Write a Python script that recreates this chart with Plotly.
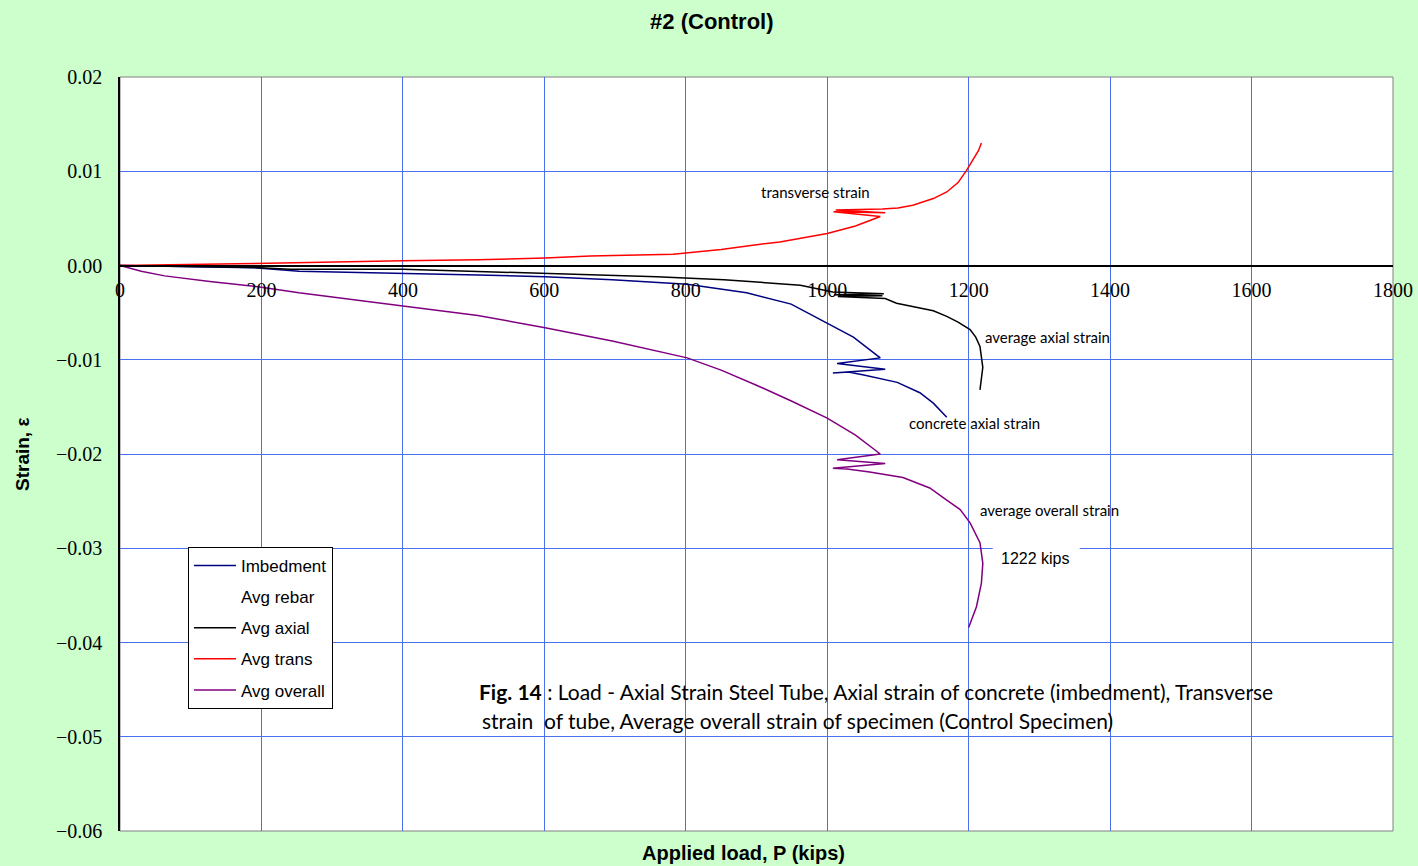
import plotly.graph_objects as go

# ---------------- data ----------------
imb_load = [0, 60, 190, 253, 400, 506, 601, 696, 802, 886, 949, 1000, 1037, 1075,
            1014, 1082, 1008, 1030, 1050, 1099, 1131, 1150, 1169]
imb_strain = [0, -0.0001, -0.00025, -0.0006, -0.0008, -0.001, -0.0012, -0.0015, -0.002,
              -0.0029, -0.0041, -0.0061, -0.0076, -0.0098, -0.0104, -0.0110, -0.0114,
              -0.0113, -0.0116, -0.0124, -0.0135, -0.0146, -0.0161]

axial_load = [0, 100, 190, 240, 400, 494, 633, 759, 854, 962, 1008, 1080, 1010, 1078,
              1015, 1082, 1098, 1125, 1150, 1169, 1185, 1202, 1210, 1216, 1220, 1216]
axial_strain = [0, -0.0001, -0.0002, -0.0004, -0.0004, -0.0006, -0.0009, -0.0012, -0.0015,
                -0.0021, -0.0028, -0.0030, -0.0031, -0.0032, -0.0033, -0.0035, -0.0040,
                -0.0044, -0.0048, -0.0054, -0.0060, -0.0068, -0.0076, -0.0086, -0.0108,
                -0.0132]

trans_load = [0, 100, 190, 400, 506, 601, 665, 782, 850, 900, 933, 1000, 1040, 1075,
              1009, 1082, 1012, 1078, 1100, 1121, 1150, 1169, 1185, 1197, 1207, 1214, 1218]
trans_strain = [0, 0.0001, 0.0002, 0.0005, 0.0006, 0.0008, 0.0010, 0.0012, 0.0017, 0.0022,
                0.0025, 0.0034, 0.0042, 0.0052, 0.0057, 0.0056, 0.0059, 0.0060, 0.0061,
                0.0064, 0.0071, 0.0078, 0.0088, 0.0101, 0.0113, 0.0122, 0.0130]

overall_load = [0, 30, 63, 127, 200, 253, 400, 506, 601, 696, 802, 850, 900, 950, 1000,
                1040, 1075, 1014, 1082, 1008, 1028, 1060, 1107, 1145, 1169, 1188, 1202,
                1216, 1220, 1218, 1211, 1200]
overall_strain = [0, -0.0006, -0.0011, -0.0017, -0.0023, -0.0029, -0.0043, -0.0053, -0.0066,
                  -0.0080, -0.0098, -0.0111, -0.0127, -0.0144, -0.0162, -0.0180, -0.0200,
                  -0.0206, -0.0210, -0.0215, -0.0216, -0.0219, -0.0225, -0.0236, -0.0249,
                  -0.0259, -0.0273, -0.0294, -0.0316, -0.0337, -0.0362, -0.0384]

series_names = ["Imbedment", "Avg rebar", "Avg axial", "Avg trans", "Avg overall"]
x_ticks = [0, 200, 400, 600, 800, 1000, 1200, 1400, 1600, 1800]
y_ticks = [0.02, 0.01, 0.0, -0.01, -0.02, -0.03, -0.04, -0.05, -0.06]

# ---------------- figure ----------------
fig = go.Figure()
fig.add_trace(go.Scatter(x=imb_load, y=imb_strain, mode="lines", name=series_names[0],
                         line=dict(color="#000080", width=1.5), legendgroup="a"))
fig.add_trace(go.Scatter(x=[None], y=[None], mode="lines", name=series_names[1],
                         line=dict(color="white", width=1.5), legendgroup="b"))
fig.add_trace(go.Scatter(x=axial_load, y=axial_strain, mode="lines", name=series_names[2],
                         line=dict(color="black", width=1.5), legendgroup="c"))
fig.add_trace(go.Scatter(x=trans_load, y=trans_strain, mode="lines", name=series_names[3],
                         line=dict(color="#FF0000", width=1.5), legendgroup="d"))
fig.add_trace(go.Scatter(x=overall_load, y=overall_strain, mode="lines", name=series_names[4],
                         line=dict(color="#800080", width=1.5), legendgroup="e"))

grid_col = "#4A70F0"
serif = "Liberation Serif, Times New Roman, serif"
sans = "Liberation Sans, Arial, sans-serif"
cal = "Lato, Open Sans, sans-serif"

fig.update_layout(
    width=1418, height=866,
    paper_bgcolor="#CCFFCC", plot_bgcolor="white",
    margin=dict(l=120, r=25, t=77, b=35, autoexpand=False),
    title=dict(text="<b>#2 (Control)</b>", x=0.502, xanchor="center", y=0.9758,
               yanchor="middle", font=dict(family=sans, size=22, color="black")),
    showlegend=True,
    legend=dict(x=0.0534, y=0.3767, xanchor="left", yanchor="top",
                bgcolor="white", bordercolor="black", borderwidth=1,
                font=dict(family=sans, size=17, color="black"),
                tracegroupgap=6, itemwidth=42),
    xaxis=dict(range=[0, 1800], tickvals=x_ticks, ticktext=[str(v) for v in x_ticks],
               showgrid=True, gridcolor=grid_col, gridwidth=1, zeroline=False,
               showline=True, linecolor="black", linewidth=1.5, automargin=False,
               anchor="free", position=0.75,
               ticks="outside", ticklen=7, tickcolor="rgba(0,0,0,0)",
               tickfont=dict(family=serif, size=20, color="black")),
    yaxis=dict(range=[-0.06, 0.02], tickvals=y_ticks, tickformat=".2f",
               showgrid=True, gridcolor=grid_col, gridwidth=1, zeroline=False,
               showline=True, linecolor="black", linewidth=1.5, automargin=False,
               ticks="outside", ticklen=12, tickcolor="rgba(0,0,0,0)",
               tickfont=dict(family=serif, size=20, color="black")),
)

# plot frame (gray)
fig.add_shape(type="rect", xref="paper", yref="paper", x0=0, y0=0, x1=1, y1=1,
              line=dict(color="#808080", width=1), layer="below")
# white patch behind "1222 kips" covering the grid line
fig.add_shape(type="rect", xref="x", yref="y", x0=1234, x1=1357, y0=-0.0330, y1=-0.0293,
              fillcolor="white", line=dict(width=0), layer="between")

ann_font = dict(family=cal, size=15, color="black")
fig.add_annotation(x=983, y=0.0078, text="transverse strain", showarrow=False,
                   xanchor="center", yanchor="middle", font=ann_font)
fig.add_annotation(x=1220, y=-0.0076, text="average axial strain", showarrow=False,
                   xanchor="left", yanchor="middle", font=ann_font)
fig.add_annotation(x=1113, y=-0.0167, text="concrete axial strain", showarrow=False,
                   xanchor="left", yanchor="middle", font=ann_font)
fig.add_annotation(x=1213, y=-0.0259, text="average overall strain", showarrow=False,
                   xanchor="left", yanchor="middle", font=ann_font)
fig.add_annotation(x=1243, y=-0.0311, text="1222 kips", showarrow=False,
                   xanchor="left", yanchor="middle",
                   font=dict(family=sans, size=16, color="black"))

cap_font = dict(family=cal, size=21, color="black")
fig.add_annotation(xref="paper", yref="paper", x=0.2804, y=0.1844,
                   text="<b>Fig. 14</b> : Load - Axial Strain Steel Tube, Axial strain of concrete (imbedment), Transverse",
                   showarrow=False, xanchor="left", yanchor="middle", font=cap_font)
fig.add_annotation(xref="paper", yref="paper", x=0.2828, y=0.1472,
                   text="strain  of tube, Average overall strain of specimen (Control Specimen)",
                   showarrow=False, xanchor="left", yanchor="middle", font=cap_font)

fig.add_annotation(xref="paper", yref="paper", x=-0.077, y=0.5, text="<b>Strain, ε</b>",
                   textangle=-90, showarrow=False, xanchor="center", yanchor="middle",
                   font=dict(family=sans, size=19, color="black"))
fig.add_annotation(xref="paper", yref="paper", x=0.490, y=-0.0292,
                   text="<b>Applied load, P (kips)</b>", showarrow=False,
                   xanchor="center", yanchor="middle",
                   font=dict(family=sans, size=20, color="black"))

fig.write_html("out.html", config={"displayModeBar": False},
               post_script="document.body.style.margin='0';document.body.style.overflow='hidden';")
